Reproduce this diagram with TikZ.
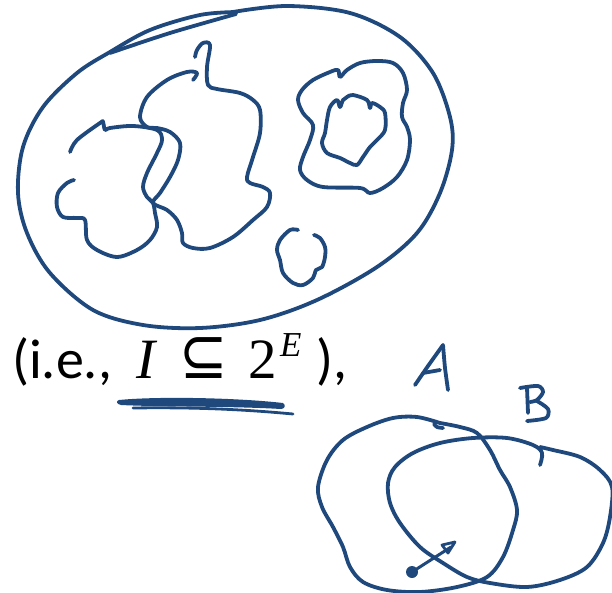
\documentclass[tikz,border=0pt]{standalone}
\usepackage{fontspec}
\setmainfont{Carlito}
\newfontfamily\mserif{Liberation Serif}
\newfontfamily\msym{DejaVu Sans}
\definecolor{ink}{RGB}{31,73,125}
\tikzset{
  pen/.style={draw=ink, line width=3.8pt, line cap=round, line join=round},
  txt/.style={inner sep=0pt, anchor=base west, text=black},
}
\begin{document}
\begin{tikzpicture}[x=1pt,y=-1pt]
\useasboundingbox (0,0) rectangle (612,593);
% big outer loop
\draw[pen] plot[smooth, tension=0.55] coordinates {(233,12)(287,6)(350,13)(400,37)(433,73)(450,117)(452,150)(440,193)(417,233)(377,267)(317,300)(260,320)(200,328)(143,325)(93,310)(50,273)(27,233)(18,193)(23,147)(43,107)(77,73)(110,52)(150,30)(200,15)(237,12)};
\draw[pen] plot[smooth, tension=0.5] coordinates {(110,53)(170,33)(236,14)};
% left blob
\draw[pen] plot[smooth, tension=0.55] coordinates {(70,152)(77,140)(100,123)(103,122)(105,130)(110,128)(133,126)(157,130)(162,140)(157,153)(147,173)(143,187)(147,197)(153,203)(155,213)(157,227)(150,240)(137,250)(117,257)(97,250)(87,240)(85,220)(77,218)(63,217)(57,207)(58,193)(67,183)(74,180)};
% middle blob
\draw[pen] plot[smooth, tension=0.55] coordinates {(193,80)(197,73)(187,72)(167,80)(147,97)(140,117)(147,127)(157,128)(170,132)(180,143)(178,160)(170,177)(160,193)(153,203)(167,210)(177,220)(182,233)(183,243)(193,248)(210,248)(233,237)(253,220)(267,207)(270,193)(263,187)(250,183)(247,177)(253,157)(260,133)(260,110)(253,100)(240,93)(217,89)(208,85)(207,67)(210,45)(203,43)(197,50)(195,57)};
% right ring outer
\draw[pen] plot[smooth cycle, tension=0.55] coordinates {(340,77)(338,70)(330,72)(313,80)(302,90)(298,100)(303,113)(313,125)(310,140)(303,157)(300,170)(307,180)(323,187)(360,188)(370,193)(383,188)(397,177)(407,160)(410,140)(407,127)(402,117)(403,103)(407,90)(403,73)(393,63)(377,61)(360,63)(347,70)};
% right ring inner
\draw[pen] plot[smooth cycle, tension=0.55] coordinates {(343,100)(340,107)(337,100)(330,107)(327,120)(325,133)(322,143)(327,153)(340,158)(350,163)(357,165)(363,157)(370,147)(377,140)(385,130)(385,113)(380,107)(372,103)(370,108)(367,100)(353,95)(347,97)};
% small blob
\draw[pen] plot[smooth, tension=0.55] coordinates {(298,230)(290,230)(280,240)(277,250)(280,260)(283,273)(293,283)(303,285)(313,278)(316,270)(322,267)(325,257)(325,247)(320,238)(314,235)};
% text
\node[txt] (t1) at (12,378) {\fontsize{56}{60}\selectfont (i.e.,};
\node[txt] (t2) at (136,378) {\fontsize{57}{60}\selectfont\mserif\itshape I};
\node[txt] (t3) at (179,378) {\scalebox{1}[1.15]{\fontsize{58}{60}\selectfont\msym ⊆}};
\node[txt] (t4) at (248,378) {\fontsize{57}{60}\selectfont\mserif 2};
\node[txt] (t5) at (280,356) {\fontsize{35}{40}\selectfont\mserif\itshape E};
\node[txt] (t6) at (316,378) {\fontsize{56}{60}\selectfont ),};
% underline strokes
\fill[ink] (119,400) .. controls (160,396) and (240,398) .. (283,403) .. controls (286,405) and (285,409) .. (281,409) .. controls (230,406) and (160,407) .. (121,405) .. controls (116,404) and (116,401) .. (119,400) -- cycle;
\draw[pen, line width=2.8pt] (133,408) .. controls (200,407) and (250,410) .. (293,414);
% circle A
\draw[pen] plot[smooth, tension=0.55] coordinates {(440,423)(417,417)(393,418)(367,427)(343,440)(327,460)(318,487)(322,507)(333,527)(343,547)(350,567)(363,582)(387,590)(420,592)(457,587)(487,577)(503,557)(513,530)(517,510)(510,487)(500,470)(490,450)(477,433)(460,427)(440,423)};
\draw[pen] plot[smooth, tension=0.5] coordinates {(434,424)(437,427)(443,428)};
% circle B
\draw[pen] plot[smooth, tension=0.55] coordinates {(540,465)(542,453)(533,445)(507,438)(473,438)(440,443)(413,453)(395,467)(388,483)(390,503)(400,523)(420,547)(443,563)(467,577)(490,583)(527,587)(560,580)(587,567)(603,543)(610,517)(612,487)(600,470)(580,457)(553,450)(540,447)};
% label A
\draw[pen] plot[smooth, tension=0.4] coordinates {(415,385)(428,366)(443,345)};
\draw[pen] plot[smooth, tension=0.4] coordinates {(443,345)(445,368)(448,390)};
\draw[pen] (423,373) -- (440,370);
% label B
\draw[pen] (527,388) -- (528,413);
\draw[pen] plot[smooth, tension=0.5] coordinates {(520,388)(538,386)(543,392)(537,400)(530,402)};
\draw[pen] plot[smooth, tension=0.5] coordinates {(537,401)(548,409)(546,418)(527,421)};
% arrow
\coordinate (dot) at (412,572);
\coordinate (tip) at (451,547);
\fill[ink] (dot) circle (6);
\draw[pen, line width=3pt] (dot) -- (tip);
\draw[pen, line width=2.8pt] (442,545) -- (455,542) -- (448,553) -- cycle;
\end{tikzpicture}
\end{document}
